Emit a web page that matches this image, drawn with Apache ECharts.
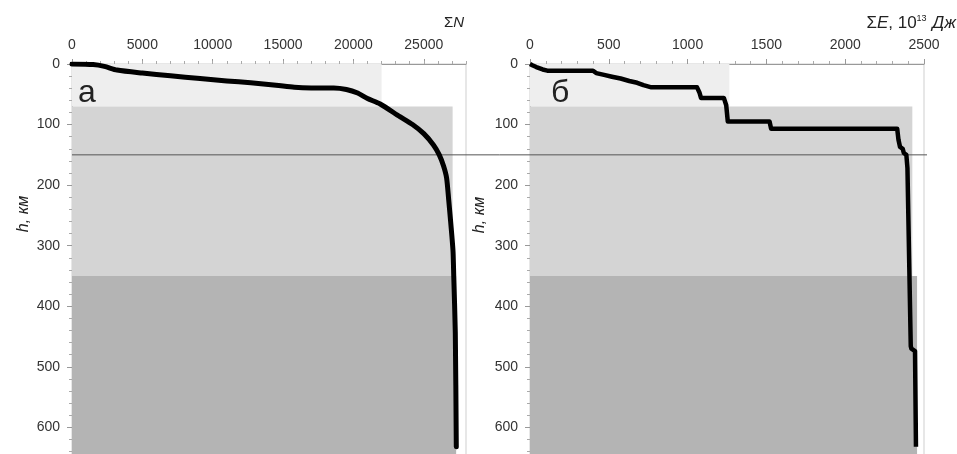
<!DOCTYPE html>
<html>
<head>
<meta charset="utf-8">
<script src="https://cdn.jsdelivr.net/npm/echarts@6/dist/echarts.min.js"></script>
<style>html,body{margin:0;padding:0;background:#fff}#c{width:957px;height:454px}</style>
</head>
<body>
<div id="c"></div>
<script>
// ---- data ----
const sumN   = [0, 1500, 2300, 3200, 5000, 7000, 9100, 11000, 12700, 14500, 15800, 17000, 18600, 19500, 20300, 21000, 21900, 23300, 24200, 25000, 25700, 26100, 26400, 26620, 26770, 26900, 27000, 27080, 27130, 27240, 27310];
const depthN = [0, 1, 4, 10, 15, 19.5, 24, 28, 31, 35, 38.5, 39.5, 39.5, 42, 48, 57, 66, 87, 100, 115, 134, 150, 168, 188, 224, 258, 285, 310, 351, 444, 632];

const sumE   = [0, 15, 40, 80, 110, 400, 420, 470, 520, 575, 630, 680, 720, 770, 1060, 1075, 1085, 1230, 1245, 1255, 1520, 1530, 2330, 2338, 2348, 2365, 2372, 2388, 2395, 2407, 2416, 2420, 2443, 2449];
const depthE = [0, 2, 5, 9, 11, 11, 15, 18, 21, 24, 28, 31, 35, 38.5, 38.5, 47, 56, 56, 68, 95, 95, 107, 107, 125, 137, 140, 147, 150, 172, 175, 466, 470, 474, 632];

const bandTop    = [0, 70, 350];
const bandBottom = [70, 350, 700];
const bandWidthN = [22000, 27050, 27300];
const bandWidthE = [1265, 2426, 2456];
const bandColors = ['#eeeeee', '#d4d4d4', '#b4b4b4'];

const boundaryDepth = 150;

const xTicksN = [0, 5000, 10000, 15000, 20000, 25000];
const xTicksE = [0, 500, 1000, 1500, 2000, 2500];
const yTicks  = [0, 100, 200, 300, 400, 500, 600];

// ---- build ----
const FONT = 'Liberation Sans';
const pairs = (xs, ys) => xs.map((x, i) => [x, ys[i]]);
const bands = (w) => bandTop.map((t, i) => [0, t, w[i], bandBottom[i], i]);

function bandSeries(xi, yi, w) {
  return {
    type: 'custom', xAxisIndex: xi, yAxisIndex: yi, z: 1, silent: true,
    data: bands(w),
    renderItem: function (params, api) {
      const p0 = api.coord([api.value(0), api.value(1)]);
      const p1 = api.coord([api.value(2), api.value(3)]);
      return { type: 'rect', shape: { x: p0[0], y: p0[1], width: p1[0] - p0[0], height: p1[1] - p0[1] },
               style: { fill: bandColors[api.value(4)] } };
    }
  };
}

const axisLabelStyle = { color: '#333', fontSize: 14, fontFamily: FONT };
const gridH = 424, YMAX = 700;

function yAxis(grid) {
  return {
    gridIndex: grid, type: 'value', inverse: true, min: 0, max: YMAX, interval: 100,
    axisLine: { show: true, lineStyle: { color: '#999' } },
    axisTick: { show: true, length: 5, lineStyle: { color: '#999' } },
    minorTick: { show: true, splitNumber: 5, length: 3, lineStyle: { color: '#aaa' } },
    splitLine: { show: false },
    axisLabel: Object.assign({ margin: 12, showMaxLabel: false,
      formatter: v => yTicks.indexOf(v) >= 0 ? String(v) : '' }, axisLabelStyle)
  };
}

const option = {
  animation: false,
  backgroundColor: '#fff',
  grid: [
    { left: 72, top: 64, width: 394, height: gridH, outerBoundsMode: 'none', containLabel: false, show: true, borderColor: '#cfcfcf', borderWidth: 1, backgroundColor: 'transparent' },
    { left: 530, top: 64, width: 394, height: gridH, outerBoundsMode: 'none', containLabel: false, show: true, borderColor: '#cfcfcf', borderWidth: 1, backgroundColor: 'transparent' },
    { left: 72, top: 64, width: 855, height: gridH, outerBoundsMode: 'none', containLabel: false, show: false }
  ],
  xAxis: [
    { gridIndex: 0, type: 'value', position: 'top', min: 0, max: 28000, interval: 5000,
      axisLine: { show: true, lineStyle: { color: '#999' } },
      axisTick: { show: true, length: 5, lineStyle: { color: '#999' } },
      splitLine: { show: false },
      axisLabel: Object.assign({ margin: 12, showMaxLabel: false,
        formatter: v => xTicksN.indexOf(v) >= 0 ? String(v) : '' }, axisLabelStyle) },
    { gridIndex: 0, type: 'value', position: 'top', min: 0, max: 28000, interval: 1000,
      axisLine: { show: false }, axisLabel: { show: false }, splitLine: { show: false },
      axisTick: { show: true, length: 3, lineStyle: { color: '#aaa' } } },
    { gridIndex: 1, type: 'value', position: 'top', min: 0, max: 2500, interval: 500,
      axisLine: { show: true, lineStyle: { color: '#999' } },
      axisTick: { show: true, length: 5, lineStyle: { color: '#999' } },
      minorTick: { show: true, splitNumber: 5, length: 3, lineStyle: { color: '#aaa' } },
      splitLine: { show: false },
      axisLabel: Object.assign({ margin: 12,
        formatter: v => xTicksE.indexOf(v) >= 0 ? String(v) : '' }, axisLabelStyle) },
    { gridIndex: 2, type: 'value', min: 0, max: 1, show: false }
  ],
  yAxis: [
    yAxis(0),
    yAxis(1),
    { gridIndex: 2, type: 'value', inverse: true, min: 0, max: YMAX, show: false }
  ],
  series: [
    bandSeries(0, 0, bandWidthN),
    bandSeries(2, 1, bandWidthE),
    { type: 'line', xAxisIndex: 3, yAxisIndex: 2, z: 2, silent: true, symbol: 'none',
      data: [[0, boundaryDepth], [1, boundaryDepth]],
      lineStyle: { color: '#555', width: 1 } },
    { type: 'line', xAxisIndex: 0, yAxisIndex: 0, z: 3, symbol: 'none', smooth: 0.25,
      data: pairs(sumN, depthN), lineStyle: { color: '#000', width: 5, cap: 'round', join: 'round' } },
    { type: 'line', xAxisIndex: 2, yAxisIndex: 1, z: 3, symbol: 'none',
      data: pairs(sumE, depthE), lineStyle: { color: '#000', width: 4.5, join: 'round' } }
  ],
  graphic: [
    { type: 'text', z: 10, style: { text: 'а', x: 78, y: 93, font: '32px ' + FONT, fill: '#222', verticalAlign: 'middle' } },
    { type: 'text', z: 10, style: { text: 'б', x: 551, y: 93, font: '32px ' + FONT, fill: '#222', verticalAlign: 'middle' } },
    { type: 'text', z: 10, style: { text: '{n|Σ}{i|N}', x: 464, y: 23, align: 'right', verticalAlign: 'middle',
        rich: { n: { fontSize: 15, fontFamily: FONT, fill: '#222' }, i: { fontSize: 15, fontFamily: FONT, fontStyle: 'italic', fill: '#222' } } } },
    { type: 'text', z: 10, style: { text: '{n|Σ}{i|E}{n|, 10}{s|13}{n| }{i|Дж}', x: 956, y: 23, align: 'right', verticalAlign: 'middle',
        rich: { n: { fontSize: 17, fontFamily: FONT, fill: '#222' }, i: { fontSize: 17, fontFamily: FONT, fontStyle: 'italic', fill: '#222' },
                s: { fontSize: 9, fontFamily: FONT, fill: '#222', verticalAlign: 'top', padding: [0, 1, 8, 0] } } } },
    { type: 'text', z: 10, rotation: Math.PI / 2, x: 24, y: 214, style: { text: 'h, км', x: 0, y: 0, align: 'center', verticalAlign: 'middle',
        font: 'italic 16px ' + FONT, fill: '#222' } },
    { type: 'text', z: 10, rotation: Math.PI / 2, x: 480, y: 215, style: { text: 'h, км', x: 0, y: 0, align: 'center', verticalAlign: 'middle',
        font: 'italic 16px ' + FONT, fill: '#222' } }
  ]
};
const chart = echarts.init(document.getElementById('c'));
chart.setOption(option);
</script>
</body>
</html>
